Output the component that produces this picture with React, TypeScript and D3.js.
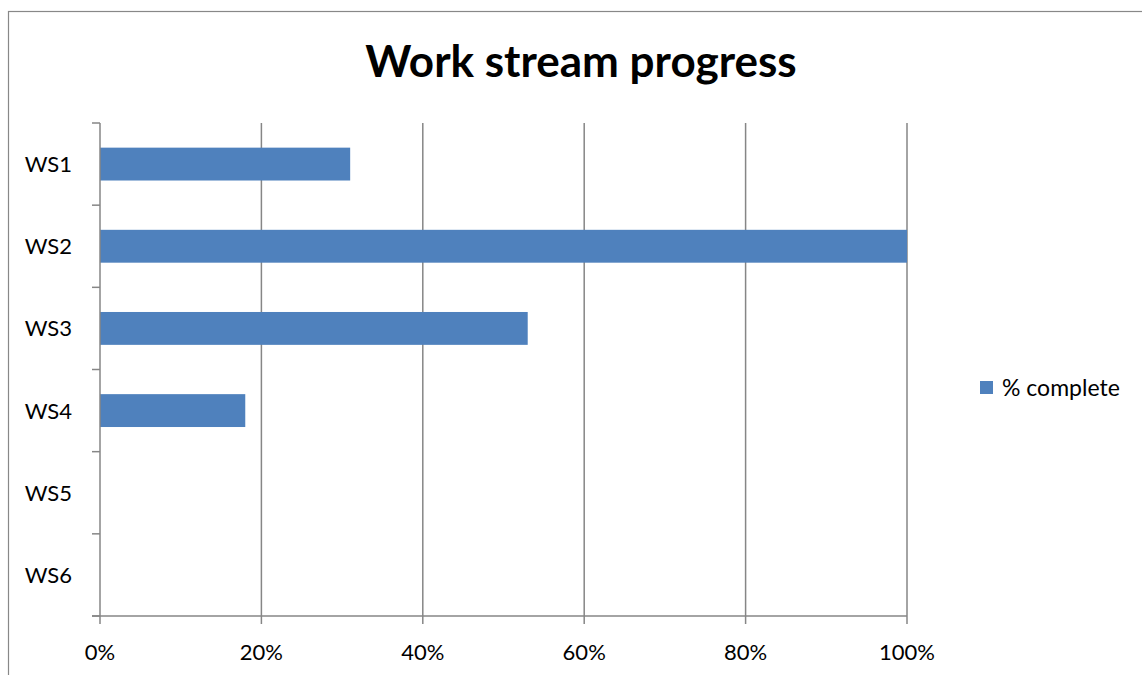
import React from "react";
import * as d3 from "d3";

const categories = ["WS1", "WS2", "WS3", "WS4", "WS5", "WS6"];
const values = [0.31, 1.0, 0.53, 0.18, 0, 0];
const xTicks = [0, 0.2, 0.4, 0.6, 0.8, 1.0];
const seriesName = "% complete";
const title = "Work stream progress";

export default function App() {
  const W = 1142, H = 675;
  const left = 100, right = 907, top = 123, bottom = 616;
  const x = d3.scaleLinear().domain([0, 1]).range([left, right]);
  const y = d3.scaleBand().domain(categories).range([top, bottom]).paddingInner(0.6).paddingOuter(0.3);
  const yb = d3.scaleBand().domain(categories).range([top, bottom]);
  const fmt = d3.format(".0%");
  const font = "Lato, 'Open Sans', sans-serif";
  const grid = "#868686";
  const blue = "#4F81BD";
  return (
    <svg width={W} height={H} style={{ position: "absolute", left: 0, top: 0, background: "#fff" }} fontFamily={font}>
      <rect x={8.5} y={11.5} width={W + 10} height={H + 10} fill="#fff" stroke="#888" strokeWidth={1.2} />
      <text x={581} y={77} textAnchor="middle" fontSize={44} fontWeight="bold" fill="#000">{title}</text>
      {xTicks.slice(1).map((t) => (
        <line key={t} x1={x(t)} x2={x(t)} y1={top} y2={bottom} stroke={grid} strokeWidth={1.5} />
      ))}
      {values.map((v, i) => (
        v > 0 ? <rect key={i} x={x(0)} y={y(categories[i])} width={x(v) - x(0)} height={y.bandwidth()} fill={blue} /> : null
      ))}
      <line x1={left} x2={left} y1={top} y2={bottom} stroke={grid} strokeWidth={1.5} />
      {[...categories.map((c) => yb(c) as number), bottom].map((p, i) => (
        <line key={i} x1={left - 8} x2={left} y1={p} y2={p} stroke={grid} strokeWidth={1.5} />
      ))}
      {categories.map((c) => (
        <text key={c} x={72} y={(yb(c) as number) + yb.bandwidth() / 2 + 8} textAnchor="end" fontSize={22} fill="#000">{c}</text>
      ))}
      <line x1={left - 8} x2={right} y1={bottom} y2={bottom} stroke={grid} strokeWidth={1.5} />
      {xTicks.map((t) => (
        <g key={t}>
          <line x1={x(t)} x2={x(t)} y1={bottom} y2={bottom + 8} stroke={grid} strokeWidth={1.5} />
          <text x={x(t)} y={660} textAnchor="middle" fontSize={22} fill="#000">{fmt(t)}</text>
        </g>
      ))}
      <rect x={980} y={381} width={13} height={13} fill={blue} />
      <text x={1002} y={396} fontSize={23} fill="#000">{seriesName}</text>
    </svg>
  );
}
